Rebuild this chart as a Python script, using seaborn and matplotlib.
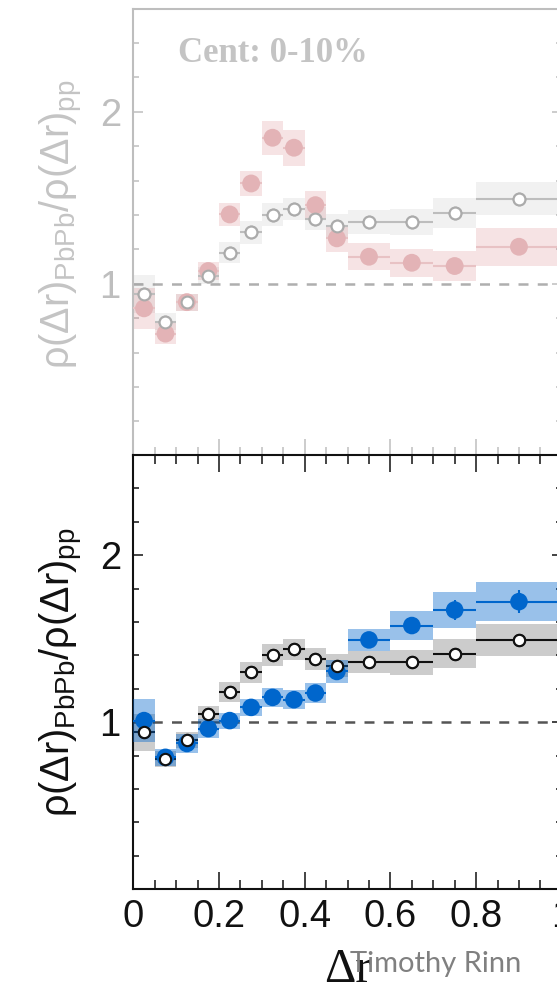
import numpy as np
import pandas as pd
import matplotlib
matplotlib.use("Agg")
import matplotlib.pyplot as plt
from matplotlib.ticker import MultipleLocator, FixedLocator, FuncFormatter
import seaborn as sns

# ---------------- data ----------------
bin_lo = [0.00, 0.05, 0.10, 0.15, 0.20, 0.25, 0.30, 0.35, 0.40, 0.45, 0.50, 0.60, 0.70, 0.80]
bin_hi = [0.05, 0.10, 0.15, 0.20, 0.25, 0.30, 0.35, 0.40, 0.45, 0.50, 0.60, 0.70, 0.80, 1.00]

# open-circle reference series (same in both panels)
ref_vals = [0.94, 0.78, 0.893, 1.047, 1.18, 1.298, 1.402, 1.436, 1.379, 1.338, 1.36, 1.36, 1.41, 1.494]
ref_sys = [0.11, 0.05, 0.05, 0.05, 0.06, 0.065, 0.065, 0.065, 0.067, 0.068, 0.068, 0.075, 0.087, 0.095]

# faded red series, top panel (Cent: 0-10%)
cent_vals = [0.857, 0.71, 0.893, 1.074, 1.403, 1.583, 1.849, 1.791, 1.457, 1.264, 1.157, 1.122, 1.103, 1.215]
cent_sys = [0.12, 0.06, 0.05, 0.05, 0.066, 0.075, 0.10, 0.105, 0.08, 0.08, 0.08, 0.08, 0.085, 0.11]

# blue series, bottom panel
new_vals = [1.01, 0.79, 0.873, 0.962, 1.01, 1.089, 1.149, 1.135, 1.175, 1.304, 1.493, 1.579, 1.672, 1.722]
new_sys = [0.13, 0.05, 0.055, 0.055, 0.048, 0.052, 0.058, 0.058, 0.058, 0.068, 0.067, 0.085, 0.105, 0.117]
new_stat = [0.02, 0.01, 0.01, 0.01, 0.01, 0.01, 0.01, 0.01, 0.01, 0.015, 0.02, 0.03, 0.06, 0.07]

y_ticks_major = [1, 2]
x_tick_labels = ["0", "0.2", "0.4", "0.6", "0.8", "1"]
panel_text = "Cent: 0-10%"
ylabel_text = r"$\rho(\Delta r)_{\mathrm{PbPb}}/\rho(\Delta r)_{\mathrm{pp}}$"
xlabel_text = "Δr"
credit_text = "Timothy Rinn"

# ---------------- style ----------------
sns.set_style("ticks")
plt.rcParams["font.family"] = ["Liberation Sans", "DejaVu Sans"]
plt.rcParams["mathtext.fontset"] = "custom"
plt.rcParams["mathtext.rm"] = "Liberation Sans"
plt.rcParams["mathtext.it"] = "Liberation Sans"
plt.rcParams["mathtext.bf"] = "Liberation Sans:bold"

df = pd.DataFrame({
    "lo": bin_lo, "hi": bin_hi,
    "ref": ref_vals, "ref_sys": ref_sys,
    "cent": cent_vals, "cent_sys": cent_sys,
    "new": new_vals, "new_sys": new_sys, "new_stat": new_stat,
})
df["x"] = (df["lo"] + df["hi"]) / 2
df["w"] = df["hi"] - df["lo"]

W, H = 557, 985
fig = plt.figure(figsize=(W / 100, H / 100), dpi=100)

ax_left = 133.3 / W
ax_w = 428.5 / W
ax_top = fig.add_axes([ax_left, (H - 455.7) / H, ax_w, 447.1 / H])
ax_bot = fig.add_axes([ax_left, (H - 889.3) / H, ax_w, 434.3 / H])
ax_bot.set_zorder(3)
ax_top.set_zorder(1)


def draw_series(ax, vals, sys, box_color, line_color, mk_face, mk_edge, size, edge_w, stat=None, z=2):
    ax.bar(df["x"], 2 * df[sys], bottom=df[vals] - df[sys], width=df["w"],
           color=box_color, linewidth=0, zorder=z)
    ax.errorbar(df["x"], df[vals], xerr=df["w"] / 2,
                yerr=(df[stat] if stat else None), fmt="none",
                ecolor=line_color, elinewidth=1.5, capsize=0, zorder=z + 1)
    sns.scatterplot(data=df, x="x", y=vals, ax=ax, s=size, color=mk_face,
                    edgecolor=mk_edge, linewidth=edge_w, zorder=z + 2, legend=False)


def style_axes(ax, axis_color, label_color, top_ticks):
    ax.set_xlim(0, 1.0)
    ax.set_ylim(0, 2.6)
    ax.xaxis.set_major_locator(MultipleLocator(0.2))
    ax.xaxis.set_minor_locator(MultipleLocator(0.05))
    ax.yaxis.set_major_locator(FixedLocator(y_ticks_major))
    ax.yaxis.set_minor_locator(MultipleLocator(0.2))
    ax.xaxis.set_major_formatter(FuncFormatter(
        lambda v, p: x_tick_labels[int(round(v / 0.2))] if 0 <= round(v / 0.2) < len(x_tick_labels) else ""))
    ax.yaxis.set_major_formatter(FuncFormatter(lambda v, p: "%g" % v))
    for s in ax.spines.values():
        s.set_color(axis_color)
        s.set_linewidth(1.5)
    ax.tick_params(which="both", direction="in", color=axis_color, width=1.1,
                   top=top_ticks, right=True, labelcolor=label_color, labelsize=27.5)
    ax.tick_params(axis="x", which="major", length=12.5, pad=7)
    ax.tick_params(axis="x", which="minor", length=6.5)
    ax.tick_params(axis="y", which="major", length=7.5, pad=9)
    ax.tick_params(axis="y", which="minor", length=4)
    ax.set_xlabel("")
    ax.set_ylabel("")


# ---------- top (faded) panel ----------
ax_top.axhline(1, color="#AFAFAF", lw=1.8, dashes=(4, 3.7), zorder=1)
draw_series(ax_top, "ref", "ref_sys", (0.5, 0.5, 0.5, 0.11), "#BDBDBD", "white", "#ABABAB", 72, 1.5, z=2)
draw_series(ax_top, "cent", "cent_sys", (0.80, 0.35, 0.38, 0.17), "#E8C2C4", "#E3B3B6", "none", 165, 0, z=2)
sns.scatterplot(data=df, x="x", y="ref", ax=ax_top, s=72, color="white",
                edgecolor="#ABABAB", linewidth=1.5, zorder=10, legend=False)
style_axes(ax_top, "#BEBEBE", "#BEBEBE", top_ticks=False)
ax_top.tick_params(labelbottom=False)
ax_top.set_ylabel(ylabel_text, fontsize=28.5, color="#C4C4C4")
ax_top.yaxis.set_label_coords(-0.113, 0.518)
ax_top.text(0.104, 0.8806, panel_text, transform=ax_top.transAxes,
            fontfamily="Liberation Serif", fontweight="bold", fontsize=25,
            color="#C4C4C4", ha="left", va="baseline")

# ---------- bottom panel ----------
ax_bot.set_facecolor("white")
ax_bot.axhline(1, color="#555555", lw=1.8, dashes=(4, 3.7), zorder=1)
draw_series(ax_bot, "ref", "ref_sys", (0, 0, 0, 0.2), "#111111", "white", "#111111", 66, 1.5, z=2)
draw_series(ax_bot, "new", "new_sys", (0.0, 0.40, 0.80, 0.4), "#0066CC", "#0066CC", "none", 160, 0,
            stat="new_stat", z=5)
sns.scatterplot(data=df, x="x", y="ref", ax=ax_bot, s=66, color="white",
                edgecolor="#111111", linewidth=1.5, zorder=10, legend=False)
style_axes(ax_bot, "#111111", "#111111", top_ticks=True)
ax_bot.set_ylabel(ylabel_text, fontsize=28.5, color="#111111")
ax_bot.yaxis.set_label_coords(-0.113, 0.5)
ax_bot.set_xlabel(xlabel_text, fontfamily="Liberation Serif", fontsize=35, color="#111111")
ax_bot.xaxis.label.set_va("baseline")
ax_bot.xaxis.set_label_coords(0.5, -0.2134)

fig.text(350 / W, (H - 972) / H, credit_text, fontfamily="Lato", fontsize=21,
         color="#808080", ha="left", va="baseline", zorder=20)

fig.savefig("out.png", dpi=100)
